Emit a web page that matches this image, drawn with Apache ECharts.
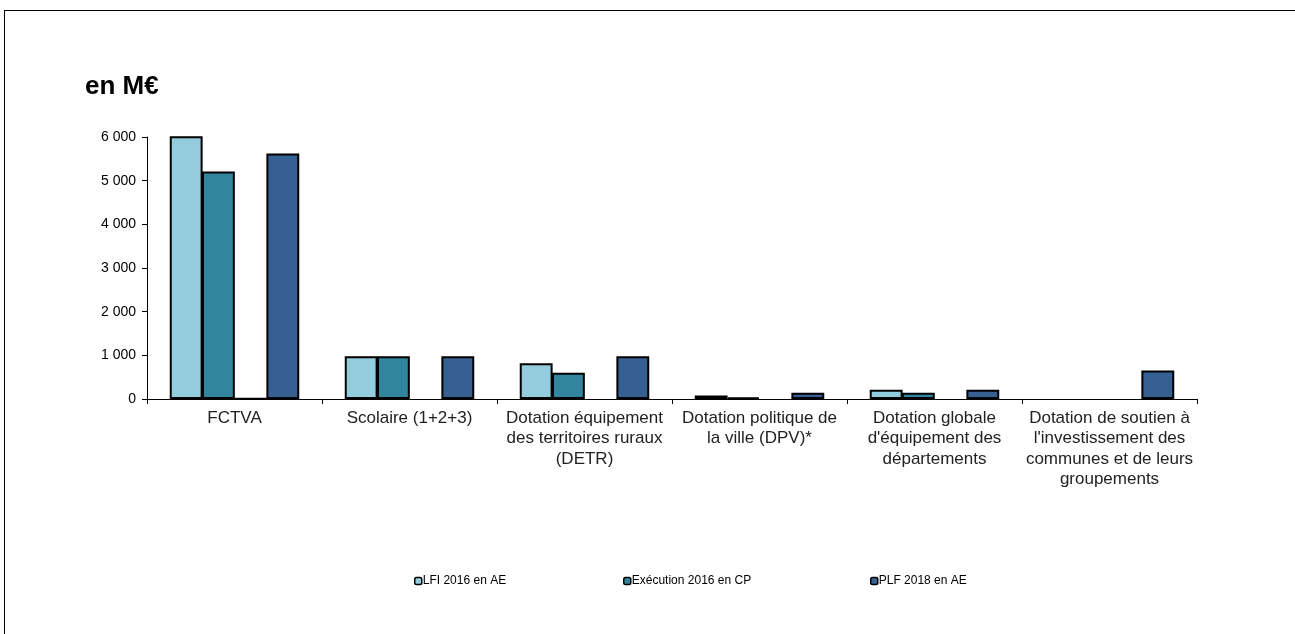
<!DOCTYPE html>
<html>
<head>
<meta charset="utf-8">
<script src="https://cdn.jsdelivr.net/npm/echarts@6/dist/echarts.min.js"></script>
<style>
  html, body { margin: 0; padding: 0; background: #fff; }
  #frame { position: absolute; left: 4px; top: 10px; width: 1300px; height: 640px;
           border-top: 1px solid #000; border-left: 1px solid #000; box-sizing: border-box; }
  #chart { position: absolute; left: 0; top: 0; width: 1295px; height: 634px; }
</style>
</head>
<body>
<div id="frame"></div>
<div id="chart"></div>
<script>
// Crédits d'investissement des collectivités, en millions d'euros
const categories = [
  "FCTVA",
  "Scolaire (1+2+3)",
  "Dotation équipement\ndes territoires ruraux\n(DETR)",
  "Dotation politique de\nla ville (DPV)*",
  "Dotation globale\nd'équipement des\ndépartements",
  "Dotation de soutien à\nl'investissement des\ncommunes et de leurs\ngroupements"
];
const seriesNames = ["LFI 2016 en AE", "Exécution 2016 en CP", "", "PLF 2018 en AE"];
const lfi2016 = [6020, 980, 820, 80, 210, null];
const exec2016 = [5210, 980, 600, 40, 145, null];
const autre = [15, null, null, null, null, null];
const plf2018 = [5620, 980, 980, 145, 210, 650];
const yTicks = [0, 1000, 2000, 3000, 4000, 5000, 6000];

const colors = ["#93CDDD", "#31859C", "#2A5F8A", "#376092"];
const values = [lfi2016, exec2016, autre, plf2018];

const fmt = v => String(v).replace(/\B(?=(\d{3})+(?!\d))/g, " ");

const chart = echarts.init(document.getElementById("chart"), null, { renderer: "canvas" });

const legendLefts = [409, 618, 865];
const legends = [0, 1, 3].map((si, k) => ({
  data: [seriesNames[si]],
  left: legendLefts[k],
  top: 570,
  itemWidth: 7,
  itemHeight: 7,
  itemGap: 0,
  selectedMode: false,
  textStyle: { fontFamily: "Liberation Sans", fontSize: 12, color: "#000", padding: [0, 0, 0, -4] },
  itemStyle: { borderColor: "#000", borderWidth: 1.5 }
}));

chart.setOption({
  animation: false,
  title: {
    text: "en M€",
    left: 80, top: 69,
    textStyle: { fontFamily: "Liberation Sans", fontSize: 26, fontWeight: "bold", color: "#000" }
  },
  legend: legends,
  grid: { left: 147, right: 98, top: 137, bottom: 235, containLabel: false },
  xAxis: {
    type: "category",
    data: categories,
    axisLine: { lineStyle: { color: "#000", width: 1 } },
    axisTick: { show: true, length: 5, lineStyle: { color: "#000" } },
    axisLabel: {
      interval: 0, margin: 9, lineHeight: 20.5,
      fontFamily: "Liberation Sans", fontSize: 17, color: "#222"
    }
  },
  yAxis: {
    type: "value",
    min: yTicks[0], max: yTicks[yTicks.length - 1], interval: 1000,
    axisLine: { show: true, lineStyle: { color: "#000", width: 1 } },
    axisTick: { show: true, length: 5, lineStyle: { color: "#000" } },
    splitLine: { show: false },
    axisLabel: {
      margin: 11, formatter: v => fmt(v),
      fontFamily: "Liberation Sans", fontSize: 14, color: "#000"
    }
  },
  series: values.map((d, i) => ({
    name: seriesNames[i],
    type: "bar",
    data: d,
    barGap: "-2%",
    barCategoryGap: "26%",
    itemStyle: { color: colors[i], borderColor: "#000", borderWidth: 2 }
  }))
});
</script>
</body>
</html>
